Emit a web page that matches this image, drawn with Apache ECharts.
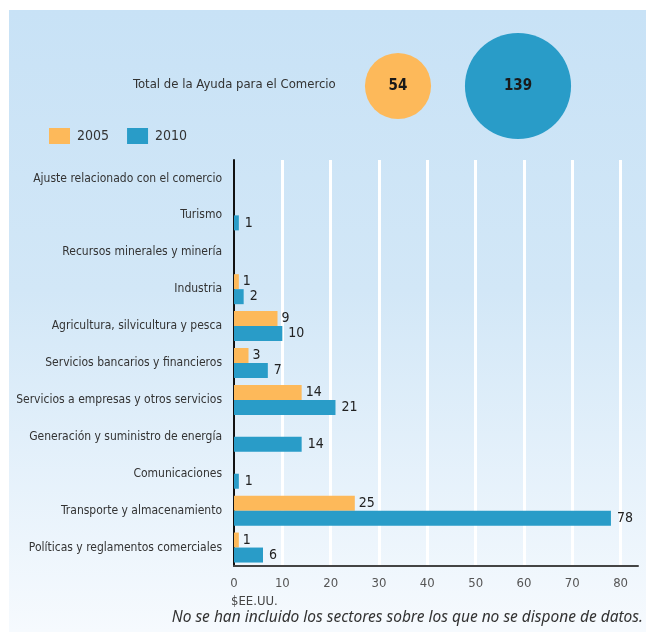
<!DOCTYPE html>
<html>
<head>
<meta charset="utf-8">
<script src="https://cdn.jsdelivr.net/npm/echarts@6/dist/echarts.min.js"></script>
<style>
html,body{margin:0;padding:0;background:#fff;}
#chart{width:646px;height:632px;}
</style>
</head>
<body>
<div id="chart"></div>
<script>
var categories = [
  'Ajuste relacionado con el comercio',
  'Turismo',
  'Recursos minerales y minería',
  'Industria',
  'Agricultura, silvicultura y pesca',
  'Servicios bancarios y financieros',
  'Servicios a empresas y otros servicios',
  'Generación y suministro de energía',
  'Comunicaciones',
  'Transporte y almacenamiento',
  'Políticas y reglamentos comerciales'
];
var values2005 = [null, null, null, 1, 9, 3, 14, null, null, 25, 1];
var values2010 = [null, 1, null, 2, 10, 7, 21, 14, 1, 78, 6];
var totalYears = ['2005', '2010'];
var totalValues = [54, 139];
var xTicks = [0, 10, 20, 30, 40, 50, 60, 70, 80];

var FONT = '"Liberation Sans Narrow", "DejaVu Sans Condensed", sans-serif';
var ORANGE = '#FDB95A';
var BLUE = '#299CC8';

var chart = echarts.init(document.getElementById('chart'), null, {renderer: 'canvas'});

var splitColors = ['rgba(0,0,0,0)'];
for (var i = 1; i < xTicks.length; i++) splitColors.push('#ffffff');
splitColors.push('rgba(0,0,0,0)');

var option = {
  animation: false,
  textStyle: {fontFamily: FONT},
  graphic: [
    {
      type: 'rect', z: -10, silent: true,
      shape: {x: 9, y: 10, width: 637, height: 622},
      style: {
        fill: new echarts.graphic.LinearGradient(0, 0, 0, 1, [
          {offset: 0, color: '#C8E2F6'},
          {offset: 0.45, color: '#D2E7F7'},
          {offset: 1, color: '#F6FAFE'}
        ])
      }
    },
    {
      type: 'text', left: 133, top: 78,
      style: {text: 'Total de la Ayuda para el Comercio', font: '13px ' + FONT, fill: '#333'}
    },
    {
      type: 'text', left: 231, top: 595,
      style: {text: '$EE.UU.', font: '13px ' + FONT, fill: '#444'}
    },
    {
      type: 'text', right: 3, top: 610,
      style: {text: 'No se han incluido los sectores sobre los que no se dispone de datos.', font: 'italic 15.5px "Noto Sans", sans-serif', fill: '#333'}
    }
  ],
  legend: {
    left: 44, top: 123,
    itemWidth: 21, itemHeight: 16, itemGap: 18,
    icon: 'rect',
    data: ['2005', '2010'],
    textStyle: {fontFamily: FONT, fontSize: 14, color: '#333', padding: [0, 0, 0, 2]}
  },
  grid: [
    {left: 234, right: 8, top: 160, bottom: 66, containLabel: false, outerBoundsMode: 'none'},
    {left: 338, width: 240, top: 36, height: 100, outerBoundsMode: 'none'}
  ],
  xAxis: [
    {
      type: 'value', gridIndex: 0, min: 0, max: 83.6, interval: 10,
      axisLine: {show: true, lineStyle: {color: '#444', width: 2}},
      axisTick: {show: false},
      axisLabel: {
        color: '#555', fontSize: 13, fontFamily: FONT, margin: 11,
        formatter: function (v) { return xTicks.indexOf(v) >= 0 ? String(v) : ''; }
      },
      splitLine: {show: true, lineStyle: {color: splitColors, width: 3}}
    },
    {
      type: 'category', gridIndex: 1, data: totalYears, show: false
    }
  ],
  yAxis: [
    {
      type: 'category', gridIndex: 0, data: categories, inverse: true,
      axisLine: {show: true, lineStyle: {color: '#111', width: 2}},
      axisTick: {show: false},
      axisLabel: {
        color: '#333', fontSize: 12, fontFamily: FONT, margin: 12,
        padding: [0, 0, 12, 0]
      },
      splitLine: {show: false}
    },
    {
      type: 'value', gridIndex: 1, min: -1, max: 1, show: false
    }
  ],
  series: [
    {
      name: '2005', type: 'bar', xAxisIndex: 0, yAxisIndex: 0,
      data: values2005, barWidth: 15, barGap: '0%',
      itemStyle: {color: ORANGE},
      label: {
        show: true, position: 'right', distance: 4,
        color: '#222', fontSize: 14, fontFamily: FONT,
        formatter: function (p) { return p.value == null ? '' : p.value; }
      }
    },
    {
      name: '2010', type: 'bar', xAxisIndex: 0, yAxisIndex: 0,
      data: values2010, barWidth: 15, barGap: '0%',
      itemStyle: {color: BLUE},
      label: {
        show: true, position: 'right', distance: 6,
        color: '#222', fontSize: 14, fontFamily: FONT,
        formatter: function (p) { return p.value == null ? '' : p.value; }
      }
    },
    {
      name: 'Total', type: 'scatter', xAxisIndex: 1, yAxisIndex: 1,
      data: totalValues.map(function (v, i) { return [i, 0, v]; }),
      symbolSize: function (d) { return Math.sqrt(d[2]) * 9; },
      itemStyle: {
        color: function (p) { return p.dataIndex === 0 ? ORANGE : BLUE; },
        opacity: 1
      },
      label: {
        show: true, position: 'inside',
        color: '#1a1a1a', fontSize: 15, fontWeight: 'bold', fontFamily: FONT,
        formatter: function (p) { return p.value[2]; }
      }
    }
  ]
};
chart.setOption(option);
</script>
</body>
</html>
